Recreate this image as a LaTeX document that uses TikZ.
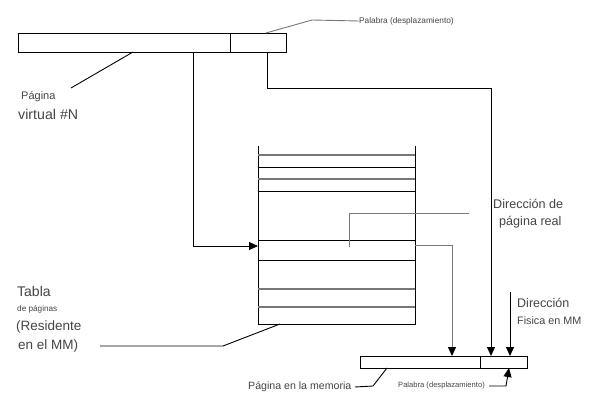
\documentclass[tikz,border=0pt]{standalone}
\usepackage{fontspec}
\setmainfont{Liberation Sans}
\usetikzlibrary{arrows.meta}
\definecolor{txt}{HTML}{444444}
\definecolor{gline}{HTML}{777777}
\tikzset{
  bar/.style={draw=black, line width=0.9pt, inner sep=0pt, minimum height=0pt},
  lbl/.style={text=txt, inner sep=0pt, anchor=west},
  wire/.style={draw=black, line width=0.9pt},
  gwire/.style={draw=gline, line width=0.9pt},
  tip/.style={-{Triangle[width=8pt,length=9pt,color=black]}},
  blackrow/.style={draw=black, line width=0.8pt},
  greyrow/.style={draw=gline, line width=1.1pt}
}
\begin{document}
\begin{tikzpicture}[x=1pt,y=-1pt]
\useasboundingbox (0,0) rectangle (600,404);
% top bar
\node[bar, minimum width=212pt, minimum height=19pt] (vpage) at (124,42.5) {};
\node[bar, minimum width=56pt, minimum height=19pt] (voff) at (258,42.5) {};
% bottom bar
\node[bar, minimum width=120pt, minimum height=12pt] (mpage) at (420,362) {};
\node[bar, minimum width=47pt, minimum height=12pt] (moff) at (503.5,362) {};
% table
\coordinate (tTL) at (258,146);
\coordinate (tTR) at (415,146);
\coordinate (tBL) at (258,324);
\coordinate (tBR) at (415,324);
\draw[wire] (tTL) -- (tBL) -- (tBR) -- (tTR);
\draw[greyrow] (258,155) -- (415,155);
\draw[blackrow] (258,167) -- (415,167);
\draw[greyrow] (258,179) -- (415,179);
\draw[blackrow] (258,191) -- (415,191);
\draw[blackrow] (258,240) -- (415,240);
\draw[blackrow] (258,260) -- (415,260);
\draw[greyrow] (258,289) -- (415,289);
\draw[greyrow] (258,307) -- (415,307);
\coordinate (tIn) at (258,246);
\coordinate (tOut) at (415,245);

% labels
\node[lbl, font=\fontsize{8.3}{9}\selectfont] (palTop) at (359,21) {Palabra (desplazamiento)};
\node[lbl, font=\fontsize{11}{12}\selectfont] (pag1) at (21,97) {Página};
\node[lbl, font=\fontsize{14.2}{15}\selectfont] (pag2) at (18,114) {virtual \#N};
\node[lbl, font=\fontsize{12.6}{14}\selectfont] (dir1) at (493,204) {Dirección de};
\node[lbl, font=\fontsize{12.6}{14}\selectfont] (dir2) at (499,222) {página real};
\node[lbl, font=\fontsize{14}{16}\selectfont] (tab1) at (17,291) {Tabla};
\node[lbl, font=\fontsize{8.2}{9}\selectfont] (tab2) at (17,309) {de páginas};
\node[lbl, font=\fontsize{13.5}{15}\selectfont] (tab3) at (16,327) {(Residente};
\node[lbl, font=\fontsize{13.5}{15}\selectfont] (tab4) at (18,346) {en el MM)};
\node[lbl, font=\fontsize{12.5}{14}\selectfont] (fis1) at (517,303) {Dirección};
\node[lbl, font=\fontsize{10.8}{12}\selectfont] (fis2) at (517,321) {Fisica en MM};
\node[lbl, font=\fontsize{10.6}{12}\selectfont] (mem) at (248,387) {Página en la memoria};
\node[lbl, font=\fontsize{7.6}{9}\selectfont] (palBot) at (398,386) {Palabra (desplazamiento)};

% leaders
\draw[gwire] (266,33) -- (312,20) -- (palTop.west);
\draw[wire] (133,52) -- (71,88);
\draw[gwire] (349,247) -- (349,213) -- (469,213);
\draw[wire] (100,346) -- (223,346) -- (280,324);
\draw[wire] (355,387) -- (373,386) -- (387,368);

% connectors
\draw[wire, tip] (193,52) -- (193,246) -- (tIn);
\draw[wire, tip] (267,52) -- (267,88) -- (491,88) -- (491,356);
\draw[gwire, tip] (tOut) -- (452,245) -- (452,356);
\draw[wire, tip] (510,292) -- (510,356);
\draw[wire, tip] (489,386) -- (506,386) -- (509,368);
\end{tikzpicture}
\end{document}
